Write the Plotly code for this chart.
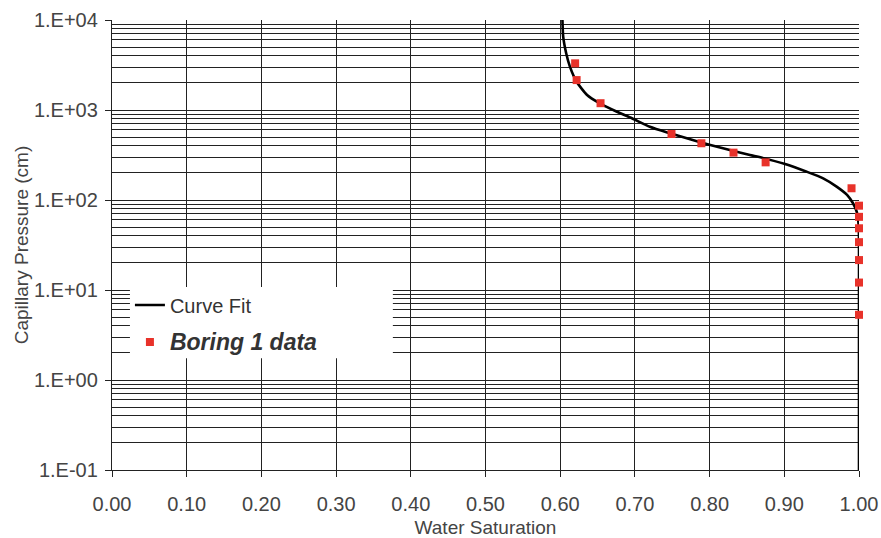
import plotly.graph_objects as go

# Fitted capillary-pressure curve (water saturation vs. pressure, cm)
fit_sw = [0.603, 0.604, 0.608, 0.613, 0.622, 0.636, 0.653, 0.676, 0.696, 0.720,
          0.747, 0.774, 0.801, 0.827, 0.854, 0.868, 0.901, 0.930, 0.952, 0.970,
          0.984, 0.992, 0.997, 0.9995, 1.0, 1.0, 1.0, 1.0]
fit_pc = [10000, 6520, 4270, 3030, 2060, 1468, 1186, 957, 809, 652,
          551, 472, 408, 359, 316, 298, 251, 206, 174, 141,
          114, 92, 74, 53, 36, 10, 1, 0.1]

# Measured data, Boring 1
boring_sw = [0.620, 0.622, 0.654, 0.749, 0.789, 0.832, 0.875, 0.990,
             1.0, 1.0, 1.0, 1.0, 1.0, 1.0, 1.0]
boring_pc = [3300, 2150, 1190, 541, 427, 336, 262, 135,
             86.5, 65, 48.5, 34, 21.5, 12.1, 5.3]

x_ticks = [0.0, 0.1, 0.2, 0.3, 0.4, 0.5, 0.6, 0.7, 0.8, 0.9, 1.0]
y_ticks = [0.1, 1, 10, 100, 1000, 10000]
y_tick_text = ["1.E-01", "1.E+00", "1.E+01", "1.E+02", "1.E+03", "1.E+04"]

GRID = "#222222"
TEXT = "#444444"
FONT = "Liberation Sans, Arial, sans-serif"

fig = go.Figure()
fig.add_trace(go.Scatter(
    x=fit_sw, y=fit_pc, mode="lines", name="Curve Fit", legendgroup="fit",
    line=dict(color="black", width=2.6, shape="spline", smoothing=0.6),
    cliponaxis=False,
))
fig.add_trace(go.Scatter(
    x=boring_sw, y=boring_pc, mode="markers", legendgroup="data",
    name='<span style="font-size:23px"><b><i>Boring 1 data</i></b></span>',
    marker=dict(symbol="square", size=8, color="#e8322a"),
    cliponaxis=False,
))

# white backing behind the legend, hiding the grid lines there
fig.add_shape(type="rect", xref="x", yref="y",
              x0=0.024, x1=0.376, y0=1.75, y1=10.8,
              fillcolor="white", line=dict(width=0), layer="between")

fig.update_layout(
    width=881, height=538,
    margin=dict(l=112, r=22, t=20, b=68),
    paper_bgcolor="white", plot_bgcolor="white",
    font=dict(family=FONT, color=TEXT, size=20),
    showlegend=True,
    legend=dict(x=0.024, y=0.41, xanchor="left", yanchor="top",
                bgcolor="rgba(0,0,0,0)", font=dict(size=20, color="#333"),
                tracegroupgap=8, itemwidth=30),
    xaxis=dict(
        range=[0, 1], tickvals=x_ticks, tickformat=".2f", automargin=False,
        showgrid=True, gridcolor=GRID, gridwidth=1.3,
        showline=True, linecolor=GRID, linewidth=1.3,
        ticks="outside", ticklen=6, tickcolor=GRID,
        ticklabelstandoff=10,
        title=dict(text="Water Saturation", standoff=10, font=dict(size=19)),
        zeroline=False,
    ),
    yaxis=dict(
        type="log", range=[-1, 4], tickvals=y_ticks, ticktext=y_tick_text,
        automargin=False,
        showgrid=True, gridcolor=GRID, gridwidth=1.3,
        minor=dict(dtick="D1", showgrid=True, gridcolor=GRID, gridwidth=1.3),
        showline=True, linecolor=GRID, linewidth=1.3,
        ticks="outside", ticklen=6, tickcolor=GRID,
        ticklabelstandoff=3,
        title=dict(text="Capillary Pressure (cm)", standoff=0, font=dict(size=19)),
        zeroline=False,
    ),
)

fig.write_html("out.html")
